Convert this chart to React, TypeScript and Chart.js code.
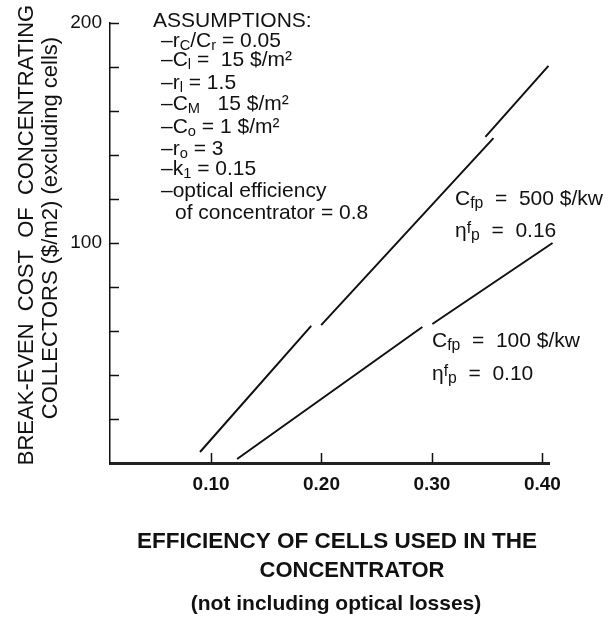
import React, { useEffect, useRef } from "react";
import { Chart, registerables } from "chart.js";

Chart.register(...registerables);

// ---------- data ----------
// Upper curve: C_fp = 500 $/kw, eta_fp = 0.16 (null = visible break in the printed line)
const upperX = [0.09, 0.1907, 0.195, 0.1997, 0.3557, 0.352, 0.3484, 0.4055];
const upperY: (number | null)[] = [5, 62.3, null, 62.7, 147.7, null, 148.2, 180.5];
// Lower curve: C_fp = 100 $/kw, eta_fp = 0.10
const lowerX = [0.1236, 0.2913, 0.296, 0.3004, 0.4092];
const lowerY: (number | null)[] = [1.8, 61.8, null, 63.2, 100];

const xTickValues = [0.1, 0.2, 0.3, 0.4];
const yTickValues = [100, 200];
const yMinorTicks = [20, 40, 60, 80, 100, 120, 140, 160, 180, 200];

const xTitleLines = ["EFFICIENCY OF CELLS USED IN THE", "CONCENTRATOR", "(not including optical losses)"];
const yTitleLines = ["BREAK-EVEN  COST  OF  CONCENTRATING", "COLLECTORS ($/m2) (excluding cells)"];

type Seg = [string, number?, number?]; // text, size scale, baseline shift
const assumptionLines: Seg[][] = [
  [["ASSUMPTIONS:"]],
  [["–r"], ["C", 0.7, 3], ["/C"], ["r", 0.7, 3], [" = 0.05"]],
  [["–C"], ["l", 0.7, 3], [" =  15 $/m²"]],
  [["–r"], ["l", 0.7, 3], [" = 1.5"]],
  [["–C"], ["M", 0.7, 3], ["   15 $/m²"]],
  [["–C"], ["o", 0.7, 3], [" = 1 $/m²"]],
  [["–r"], ["o", 0.7, 3], [" = 3"]],
  [["–k"], ["1", 0.7, 3], [" = 0.15"]],
  [["–optical efficiency"]],
  [["of concentrator = 0.8"]],
];
const curveNotes: Seg[][] = [
  [["C"], ["fp", 0.75, 3], ["  =  500 $/kw"]],
  [["η"], ["f", 0.75, -4], ["p", 0.75, 3], ["  =  0.16"]],
  [["C"], ["fp", 0.75, 3], ["  =  100 $/kw"]],
  [["η"], ["f", 0.75, -4], ["p", 0.75, 3], ["  =  0.10"]],
];

// ---------- layout / style ----------
const W = 616;
const H = 618;
const AREA = { left: 110, right: 549, top: 23, bottom: 463 };
const FAMILY = '"Liberation Sans", Arial, Helvetica, sans-serif';
const INK = "#111";

function drawRich(ctx: CanvasRenderingContext2D, segs: Seg[], x: number, y: number, size: number) {
  let cx = x;
  for (const s of segs) {
    const t = s[0];
    const sc = s[1] ?? 1;
    const dy = s[2] ?? 0;
    ctx.font = `${size * sc}px ${FAMILY}`;
    ctx.fillText(t, cx, y + dy);
    cx += ctx.measureText(t).width;
  }
}

const decorPlugin = {
  id: "decor",
  afterDraw(chart: any) {
    const ctx: CanvasRenderingContext2D = chart.ctx;
    const xs = chart.scales.x;
    const ys = chart.scales.y;
    const { left, bottom } = chart.chartArea;
    ctx.save();
    // inner tick marks
    ctx.strokeStyle = INK;
    ctx.lineWidth = 1.5;
    ctx.beginPath();
    for (const v of yMinorTicks) {
      const py = Math.round(ys.getPixelForValue(v)) + 0.5;
      ctx.moveTo(left, py);
      ctx.lineTo(left + 9, py);
    }
    for (const v of xTickValues) {
      const px = Math.round(xs.getPixelForValue(v)) + 0.5;
      ctx.moveTo(px, bottom);
      ctx.lineTo(px, bottom - 10);
    }
    ctx.stroke();

    ctx.fillStyle = INK;
    ctx.textBaseline = "alphabetic";

    // y-axis title (rotated)
    ctx.font = `22px ${FAMILY}`;
    ctx.textAlign = "center";
    const yTitlePos = [
      { x: 33, y: 235 },
      { x: 57, y: 228 },
    ];
    yTitleLines.forEach((t, i) => {
      ctx.save();
      ctx.translate(yTitlePos[i].x, yTitlePos[i].y);
      ctx.rotate(-Math.PI / 2);
      ctx.fillText(t, 0, 0);
      ctx.restore();
    });

    // x-axis title
    const xTitlePos = [
      { x: 337, y: 548, size: 22.5 },
      { x: 352, y: 577, size: 22 },
      { x: 336, y: 610, size: 21 },
    ];
    xTitleLines.forEach((t, i) => {
      ctx.font = `bold ${xTitlePos[i].size}px ${FAMILY}`;
      ctx.fillText(t, xTitlePos[i].x, xTitlePos[i].y);
    });

    // assumptions block
    ctx.textAlign = "left";
    const aBase = [27, 47, 66, 89, 110, 133, 155, 175, 197, 219];
    const aX = [153, 161, 161, 161, 161, 161, 161, 161, 161, 175];
    assumptionLines.forEach((segs, i) => drawRich(ctx, segs, aX[i], aBase[i], 21));

    // curve annotations
    const nPos = [
      { x: 455, y: 205 },
      { x: 455, y: 237 },
      { x: 432, y: 347 },
      { x: 432, y: 380 },
    ];
    curveNotes.forEach((segs, i) => drawRich(ctx, segs, nPos[i].x, nPos[i].y, 21));
    ctx.restore();
  },
};

export default function App() {
  const ref = useRef<HTMLCanvasElement | null>(null);

  useEffect(() => {
    if (!ref.current) return;
    const lineStyle = {
      borderColor: INK,
      borderWidth: 2,
      pointRadius: 0,
      fill: false,
      tension: 0,
      spanGaps: false,
      clip: false as any,
    };
    const chart = new Chart(ref.current, {
      type: "line",
      data: {
        datasets: [
          { label: "500 $/kw", data: upperX.map((x, i) => ({ x, y: upperY[i] })), ...lineStyle } as any,
          { label: "100 $/kw", data: lowerX.map((x, i) => ({ x, y: lowerY[i] })), ...lineStyle } as any,
        ],
      },
      options: {
        responsive: false,
        animation: false,
        devicePixelRatio: 1,
        layout: { padding: { left: 0, right: W - AREA.right, top: AREA.top, bottom: 0 } },
        plugins: { legend: { display: false }, tooltip: { enabled: false } },
        scales: {
          x: {
            type: "linear",
            min: 0.0085,
            max: 0.406,
            afterBuildTicks: (s: any) => {
              s.ticks = xTickValues.map((value) => ({ value }));
            },
            afterFit: (s: any) => {
              s.height = H - AREA.bottom;
            },
            ticks: {
              autoSkip: false,
              maxRotation: 0,
              padding: 10,
              color: INK,
              font: { family: FAMILY, size: 19, weight: "bold" },
              callback: (v: any) => Number(v).toFixed(2),
            },
            grid: { display: true, drawOnChartArea: false, drawTicks: false },
            border: { display: true, color: "#222", width: 3 },
          },
          y: {
            type: "linear",
            min: 0,
            max: 200,
            afterBuildTicks: (s: any) => {
              s.ticks = yTickValues.map((value) => ({ value }));
            },
            afterFit: (s: any) => {
              s.width = AREA.left;
            },
            ticks: {
              padding: 8,
              color: INK,
              font: { family: FAMILY, size: 19 },
              callback: (v: any) => String(v),
            },
            grid: { display: true, drawOnChartArea: false, drawTicks: false },
            border: { display: true, color: INK, width: 1.5 },
          },
        },
      } as any,
      plugins: [decorPlugin],
    });
    return () => chart.destroy();
  }, []);

  return (
    <div style={{ position: "fixed", left: 0, top: 0, width: W, height: H, background: "#fff" }}>
      <canvas ref={ref} width={W} height={H} style={{ display: "block", width: W, height: H }} />
    </div>
  );
}
